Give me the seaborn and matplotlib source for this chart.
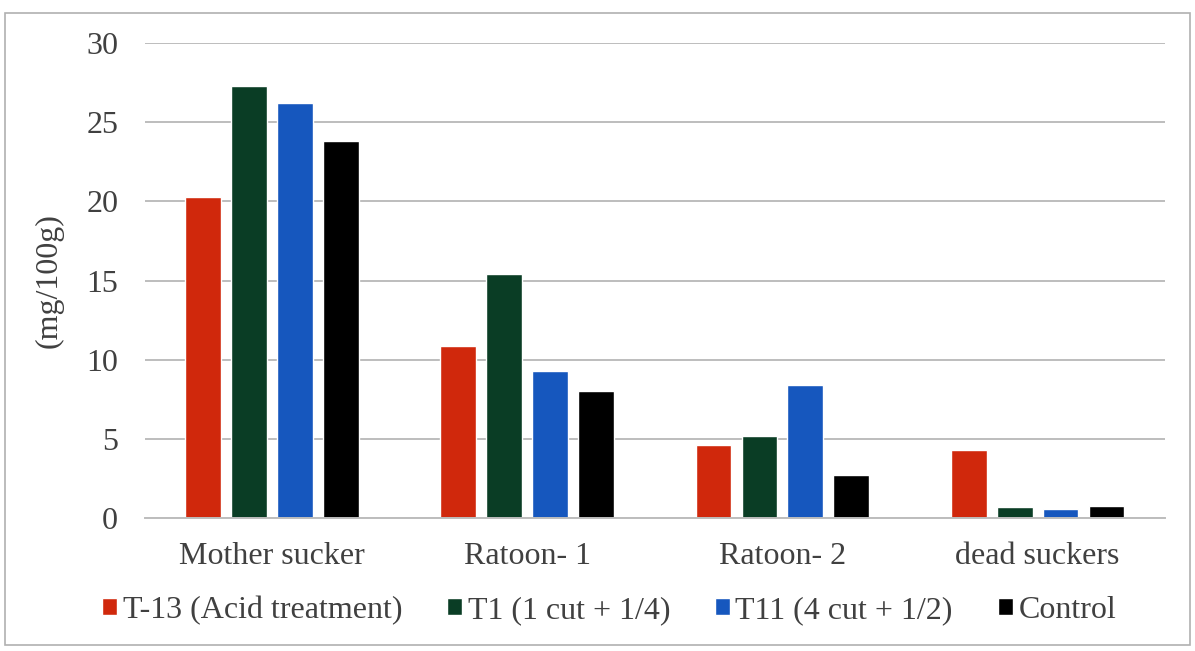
import matplotlib
matplotlib.use("Agg")
import matplotlib.pyplot as plt
from matplotlib.patches import Rectangle
import pandas as pd
import seaborn as sns

categories = ["Mother sucker", "Ratoon- 1", "Ratoon- 2", "dead suckers"]
series = ["T-13 (Acid treatment)", "T1 (1 cut + 1/4)", "T11 (4 cut + 1/2)", "Control"]
t13_acid = [20.3, 10.9, 4.6, 4.3]
t1_cut = [27.3, 15.4, 5.2, 0.7]
t11_cut = [26.2, 9.3, 8.4, 0.6]
control = [23.8, 8.0, 2.7, 0.8]
colors = ["#D0280C", "#0A3D25", "#1657BE", "#000000"]
y_ticks = [0, 5, 10, 15, 20, 25, 30]
y_label = "(mg/100g)"

rows = []
for name, vals in zip(series, [t13_acid, t1_cut, t11_cut, control]):
    for cat, v in zip(categories, vals):
        rows.append({"category": cat, "series": name, "value": v})
df = pd.DataFrame(rows)

sns.set_theme(style="white")
plt.rcParams["font.family"] = ["Liberation Serif", "DejaVu Serif"]
text_color = "#404040"
fs = 23

fig = plt.figure(figsize=(11.95, 6.51), dpi=100)
ax = fig.add_axes([0.121, 0.204, 0.854, 0.730])

sns.barplot(data=df, x="category", y="value", hue="series", order=categories,
            hue_order=series, palette=colors, width=0.72, gap=0.22,
            saturation=1, ax=ax, legend=True)

ax.set_ylim(0, 30)
ax.set_yticks(y_ticks)
ax.set_xlim(-0.5, len(categories) - 0.5)
ax.yaxis.grid(True, color="#BDBDBD", linewidth=1.4)
ax.set_axisbelow(True)
for side in ["top", "right", "left"]:
    ax.spines[side].set_visible(False)
ax.spines["bottom"].set_color("#BDBDBD")
ax.spines["bottom"].set_linewidth(1.4)
ax.tick_params(axis="both", length=0, labelsize=fs, labelcolor=text_color)
ax.tick_params(axis="y", pad=19)
ax.tick_params(axis="x", pad=17)
ax.set_xlabel("")
ax.set_ylabel(y_label, fontsize=fs, color=text_color, labelpad=16)

handles, labels = ax.get_legend_handles_labels()
ax.legend(handles, labels, loc="center", bbox_to_anchor=(0.455, -0.194),
          ncol=4, frameon=False, fontsize=fs, handlelength=0.47,
          handleheight=0.47, handletextpad=0.18, columnspacing=1.4,
          labelcolor=text_color)

# thin chart border
fig.patches.append(Rectangle((5 / 1195, 6 / 651), 1185 / 1195, 632 / 651,
                             transform=fig.transFigure, fill=False,
                             edgecolor="#B0B0B0", linewidth=1.2))

fig.savefig("out.png", dpi=100, facecolor="white")
